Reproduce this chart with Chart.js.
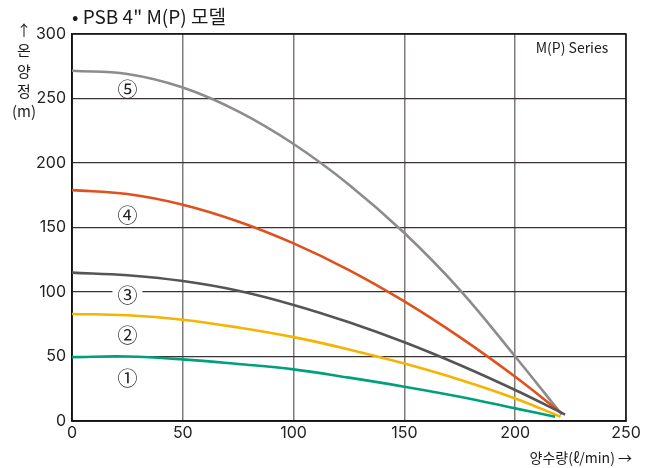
<!DOCTYPE html>
<html><head><meta charset="utf-8">
<script src="https://cdn.jsdelivr.net/npm/chart.js@4.4.1/dist/chart.umd.min.js"></script>
<style>html,body{margin:0;padding:0;background:#fff;}canvas{display:block;}</style>
</head><body>
<canvas id="c" width="654" height="468"></canvas>
<script>
// ---- data ----
const titleText = '• PSB 4" M(P) 모델';
const seriesLabel = 'M(P) Series';
const xAxisTitle = '양수량(ℓ/min) →';
const yAxisTitle = ['↑', '온', '양', '정', '(m)'];
const xTicks = [0, 50, 100, 150, 200, 250];
const yTicks = [0, 50, 100, 150, 200, 250, 300];

const flow1 = [0, 25, 50, 75, 100, 125, 150, 175, 200, 218];
const head1 = [49.5, 50, 47.8, 44.2, 40, 33.6, 26.6, 18.8, 9.8, 3.3];
const flow2 = [0, 25, 50, 75, 100, 125, 150, 175, 200, 220.5];
const head2 = [83, 82, 78.5, 72.5, 65, 55.5, 44.5, 32, 17.5, 3.3];
const flow3 = [0, 25, 50, 75, 100, 125, 150, 175, 200, 222.5];
const head3 = [115, 113, 108.5, 101, 90, 76.5, 61, 43.4, 24, 5];
const flow4 = [0, 25, 50, 75, 100, 125, 150, 175, 200, 221];
const head4 = [179, 176, 167.7, 154.7, 137.7, 117, 92.7, 65, 34.3, 6];
const flow5 = [0, 25, 50, 75, 100, 125, 150, 175, 200, 221];
const head5 = [271.5, 269, 258.5, 240, 214.7, 183.2, 145.7, 101.7, 50, 5];

const curveNames = ['①', '②', '③', '④', '⑤'];
const curveLabelFlow = [25, 25, 25, 25, 25];
const curveLabelHead = [34, 67, 98.5, 160, 258];

const colors = ['#00a07c', '#f6b300', '#555555', '#e0501c', '#8c8c8c'];

function pts(xs, ys) { return xs.map((x, i) => ({x: x, y: ys[i]})); }
const flows = [flow1, flow2, flow3, flow4, flow5];
const heads = [head1, head2, head3, head4, head5];

const FONT = '"Noto Sans CJK KR", "Noto Sans", sans-serif';
const NUMFONT = 'Inter, "Noto Sans", sans-serif';

const annot = {
  id: 'annot',
  beforeDatasetsDraw(chart) {
    const ctx = chart.ctx;
    const a = chart.chartArea;
    ctx.save();
    ctx.strokeStyle = '#111';
    ctx.lineWidth = 1.5;
    ctx.strokeRect(a.left, a.top, a.right - a.left, a.bottom - a.top);
    ctx.restore();
  },
  afterDatasetsDraw(chart) {
    const ctx = chart.ctx;
    const xs = chart.scales.x, ys = chart.scales.y;
    ctx.save();
    ctx.textBaseline = 'middle';
    ctx.textAlign = 'center';
    ctx.font = '20px ' + FONT;
    for (let i = 0; i < curveNames.length; i++) {
      const px = xs.getPixelForValue(curveLabelFlow[i]);
      const py = ys.getPixelForValue(curveLabelHead[i]);
      ctx.fillStyle = '#fff';
      ctx.fillRect(px - 15, py - 9, 30, 18);
      ctx.fillStyle = '#222';
      ctx.fillText(curveNames[i], px, py + 1);
    }
    ctx.restore();
  },
  afterDraw(chart) {
    const ctx = chart.ctx;
    const a = chart.chartArea;
    ctx.save();
    ctx.fillStyle = '#1a1a1a';
    ctx.textBaseline = 'middle';
    ctx.textAlign = 'left';
    ctx.font = '19px ' + FONT;
    ctx.fillText(titleText, a.left, 17);
    ctx.textAlign = 'center';
    ctx.font = '14px ' + FONT;
    ctx.fillText(seriesLabel, a.right - 54, 48);
    ctx.font = '15px ' + FONT;
    const ly = [30, 50, 71, 91, 111];
    yAxisTitle.forEach((t, i) => ctx.fillText(t, 24, ly[i]));
    ctx.textAlign = 'right';
    ctx.font = '14px ' + FONT;
    ctx.fillText(xAxisTitle, a.right + 6, 458);
    ctx.restore();
  }
};

new Chart(document.getElementById('c'), {
  type: 'scatter',
  data: {
    datasets: curveNames.map((n, i) => ({
      label: n,
      data: pts(flows[i], heads[i]),
      showLine: true,
      borderColor: colors[i],
      backgroundColor: colors[i],
      borderWidth: 2.6,
      pointRadius: 0,
      tension: 0.4,
      fill: false
    }))
  },
  options: {
    responsive: false,
    animation: false,
    devicePixelRatio: 1,
    layout: { padding: { top: 34, right: 28, left: 0, bottom: 0 } },
    plugins: { legend: { display: false }, tooltip: { enabled: false } },
    scales: {
      x: {
        type: 'linear', min: 0, max: 250,
        afterBuildTicks: s => { s.ticks = xTicks.map(v => ({value: v})); },
        afterFit: s => { s.height = 47; },
        ticks: { color: '#222', font: { size: 16, family: NUMFONT }, padding: 3 },
        grid: { color: '#807a7a', lineWidth: 1.5, drawTicks: false },
        border: { color: '#111', width: 1.5 }
      },
      y: {
        type: 'linear', min: 0, max: 300,
        afterBuildTicks: s => { s.ticks = yTicks.map(v => ({value: v})); },
        afterFit: s => { s.width = 72; },
        ticks: { color: '#222', font: { size: 16, family: NUMFONT }, padding: 6 },
        grid: { color: '#3a3333', lineWidth: 1.2, drawTicks: false },
        border: { color: '#111', width: 1.5 }
      }
    }
  },
  plugins: [annot]
});
</script>
</body></html>
